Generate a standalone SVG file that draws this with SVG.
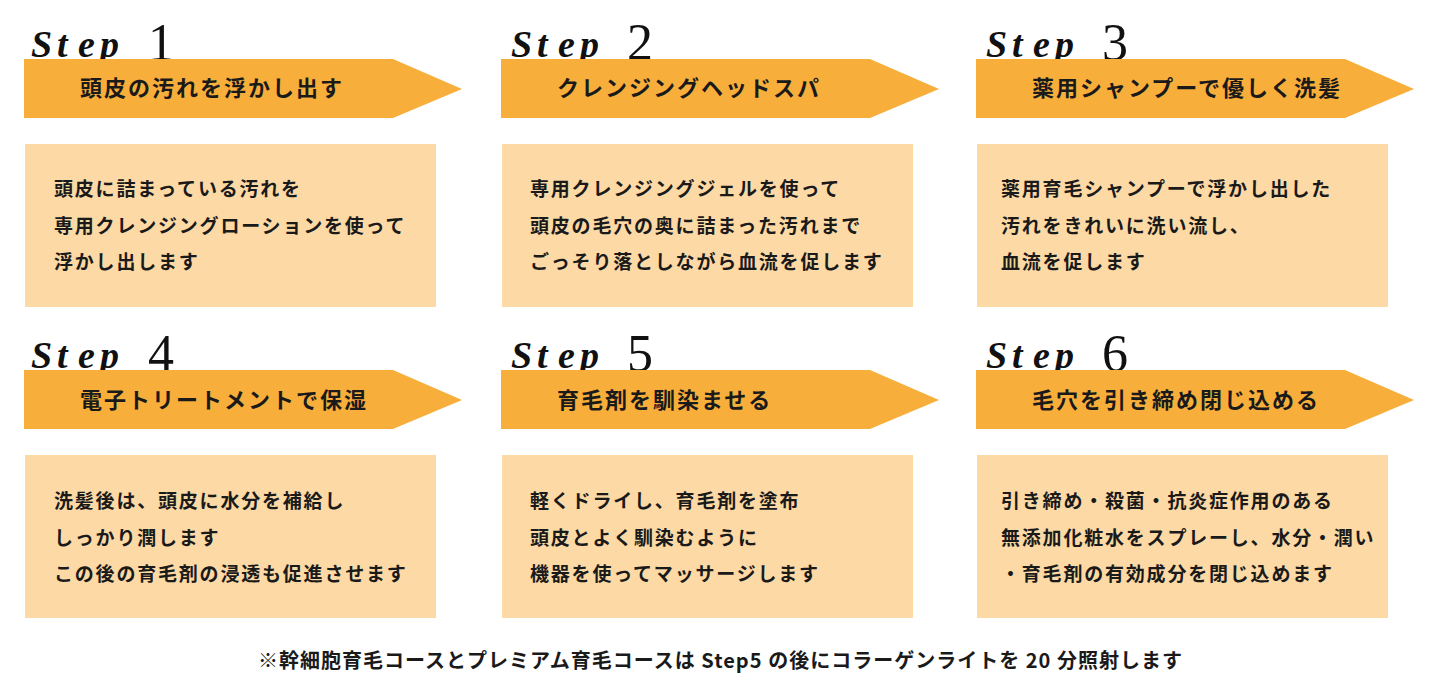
<svg xmlns="http://www.w3.org/2000/svg" xmlns:xlink="http://www.w3.org/1999/xlink" width="1440" height="690" viewBox="0 0 1440 690">
  <style>
    .arrow { fill: #F8AE3B; }
    .box { fill: #FCD9A5; }
    .step { font-family: "Liberation Serif", "DejaVu Serif", serif; font-style: italic; font-weight: 700; font-size: 38px; fill: #111; }
    .num { font-family: "Liberation Serif", "DejaVu Serif", serif; font-size: 52px; fill: #111; }
    .head { font-family: "Noto Sans CJK JP", "Noto Sans CJK SC", sans-serif; font-weight: 700; font-size: 22px; letter-spacing: 2px; fill: #1a1a1a; }
    .body { font-family: "Noto Sans CJK JP", "Noto Sans CJK SC", sans-serif; font-weight: 700; font-size: 19px; letter-spacing: 1.8px; fill: #1a1a1a; }
    .foot { font-family: "Noto Sans CJK JP", "Noto Sans CJK SC", sans-serif; font-weight: 700; font-size: 20px; fill: #1a1a1a; }
  </style>
  <defs>
    <path id="arrowShape" d="M24 59 H393 L462 89 L393 118 H24 Z"/>
    <rect id="boxShape" x="25" y="144" width="411" height="163"/>
  </defs>
  <rect x="0" y="0" width="1440" height="690" fill="#ffffff"/>

  <g id="step1">
    <text class="step" x="31 57 78 100" y="57">Step</text>
    <text class="num" x="148" y="60">1</text>
    <use xlink:href="#arrowShape" class="arrow"/>
    <text class="head" x="80" y="96">頭皮の汚れを浮かし出す</text>
    <use xlink:href="#boxShape" class="box"/>
    <text class="body" x="54" y="196">頭皮に詰まっている汚れを</text>
    <text class="body" x="54" y="233">専用クレンジングローションを使って</text>
    <text class="body" x="54" y="269">浮かし出します</text>
  </g>

  <g id="step2" transform="translate(477,0)">
    <text class="step" x="34 60 81 103" y="57">Step</text>
    <text class="num" x="150" y="60">2</text>
    <use xlink:href="#arrowShape" class="arrow"/>
    <text class="head" x="80" y="96">クレンジングヘッドスパ</text>
    <use xlink:href="#boxShape" class="box"/>
    <text class="body" x="53" y="196">専用クレンジングジェルを使って</text>
    <text class="body" x="53" y="233">頭皮の毛穴の奥に詰まった汚れまで</text>
    <text class="body" x="53" y="269">ごっそり落としながら血流を促します</text>
  </g>

  <g id="step3" transform="translate(952,0)">
    <text class="step" x="34 60 81 103" y="57">Step</text>
    <text class="num" x="150" y="60">3</text>
    <use xlink:href="#arrowShape" class="arrow"/>
    <text class="head" x="80" y="96">薬用シャンプーで優しく洗髪</text>
    <use xlink:href="#boxShape" class="box"/>
    <text class="body" x="49" y="196">薬用育毛シャンプーで浮かし出した</text>
    <text class="body" x="49" y="233">汚れをきれいに洗い流し、</text>
    <text class="body" x="49" y="269">血流を促します</text>
  </g>

  <g id="step4" transform="translate(0,311)">
    <text class="step" x="31 57 78 100" y="57">Step</text>
    <text class="num" x="148" y="60">4</text>
    <use xlink:href="#arrowShape" class="arrow"/>
    <text class="head" x="80" y="97">電子トリートメントで保湿</text>
    <use xlink:href="#boxShape" class="box"/>
    <text class="body" x="54" y="197">洗髪後は、頭皮に水分を補給し</text>
    <text class="body" x="54" y="234">しっかり潤します</text>
    <text class="body" x="54" y="270">この後の育毛剤の浸透も促進させます</text>
  </g>

  <g id="step5" transform="translate(477,311)">
    <text class="step" x="34 60 81 103" y="57">Step</text>
    <text class="num" x="150" y="60">5</text>
    <use xlink:href="#arrowShape" class="arrow"/>
    <text class="head" x="80" y="97">育毛剤を馴染ませる</text>
    <use xlink:href="#boxShape" class="box"/>
    <text class="body" x="53" y="197">軽くドライし、育毛剤を塗布</text>
    <text class="body" x="53" y="234">頭皮とよく馴染むように</text>
    <text class="body" x="53" y="270">機器を使ってマッサージします</text>
  </g>

  <g id="step6" transform="translate(952,311)">
    <text class="step" x="34 60 81 103" y="57">Step</text>
    <text class="num" x="150" y="60">6</text>
    <use xlink:href="#arrowShape" class="arrow"/>
    <text class="head" x="80" y="97">毛穴を引き締め閉じ込める</text>
    <use xlink:href="#boxShape" class="box"/>
    <text class="body" x="49" y="197">引き締め・殺菌・抗炎症作用のある</text>
    <text class="body" x="49" y="234">無添加化粧水をスプレーし、水分・潤い</text>
    <text class="body" x="49" y="270">・育毛剤の有効成分を閉じ込めます</text>
  </g>

  <g id="footnote">
    <text class="foot" x="720" y="668" text-anchor="middle" textLength="924" lengthAdjust="spacing">※幹細胞育毛コースとプレミアム育毛コースは Step5 の後にコラーゲンライトを 20 分照射します</text>
  </g>
</svg>
